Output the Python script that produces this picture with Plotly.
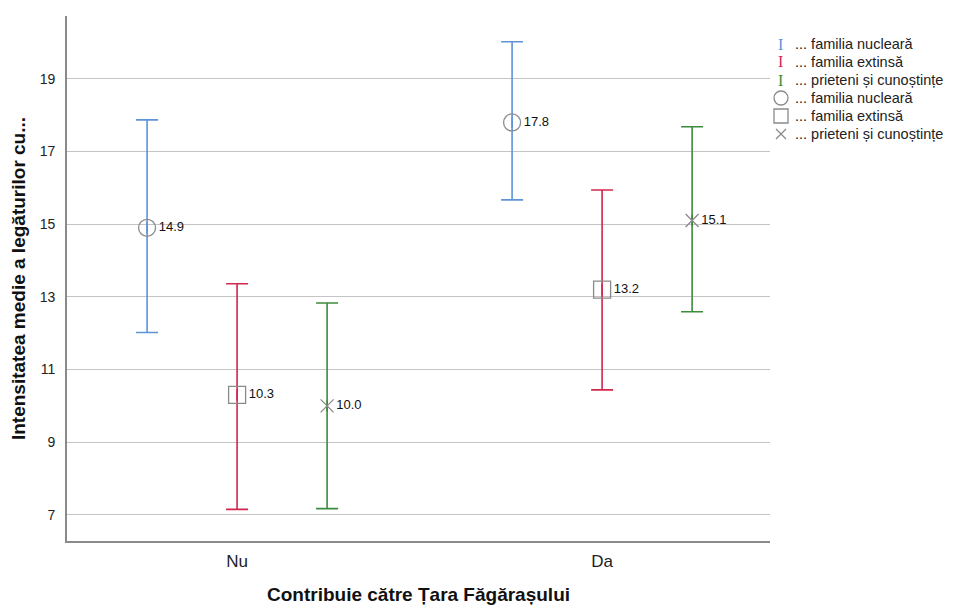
import plotly.graph_objects as go

categories = ["Nu", "Da"]
series_names = ["... familia nucleară", "... familia extinsă", "... prieteni și cunoștințe"]
means = [[14.9, 17.8], [10.3, 13.2], [10.0, 15.1]]
upper = [[17.87, 20.02], [13.36, 15.94], [12.83, 17.68]]
lower = [[12.02, 15.67], [7.15, 10.44], [7.17, 12.59]]
mean_labels = [["14.9", "17.8"], ["10.3", "13.2"], ["10.0", "15.1"]]

bar_colors = ["#5e93d9", "#d3264f", "#3d8b3d"]
marker_symbols = ["circle-open", "square-open", "x-thin-open"]
marker_sizes = [17, 17, 13]
offsets = [-0.2466, 0.0, 0.2466]
marker_color = "#8a8a8a"

font = "Liberation Sans, Arial, sans-serif"

# figure geometry (page has 8px body margin)
L, T, W, H = 59, 8, 703, 525
FW, FH = 960, 612

fig = go.Figure()

# error bar traces
for i, name in enumerate(series_names):
    xs = [j + offsets[i] for j in range(len(categories))]
    fig.add_trace(go.Scatter(
        x=xs, y=means[i], mode="markers", name=name, showlegend=False,
        marker=dict(symbol="line-ns-open", size=8, color=bar_colors[i],
                    line=dict(color=bar_colors[i], width=1.5)),
        error_y=dict(type="data", symmetric=False,
                     array=[u - m for u, m in zip(upper[i], means[i])],
                     arrayminus=[m - l for m, l in zip(means[i], lower[i])],
                     color=bar_colors[i], thickness=1.6, width=11),
        hoverinfo="skip",
    ))

# mean marker traces
for i, name in enumerate(series_names):
    xs = [j + offsets[i] for j in range(len(categories))]
    fig.add_trace(go.Scatter(
        x=xs, y=means[i], mode="markers+text", name=name, showlegend=False,
        marker=dict(symbol=marker_symbols[i], size=marker_sizes[i], color=marker_color,
                    line=dict(color=marker_color, width=1.3)),
        text=mean_labels[i], textposition="middle right",
        textfont=dict(family=font, size=13, color="#111"),
    ))

# custom legend (annotations + pixel-sized shapes)
def px_to_paper(fx, fy):
    return (fx - L) / W, (T + H - fy) / H

annotations, shapes = [], []
row_top, row_gap = 36, 18
icon_x, text_x = 773, 785
r = 7
line_style = dict(color=marker_color, width=1.3)
for k in range(6):
    fy = row_top + k * row_gap
    ix, iy = px_to_paper(icon_x, fy)
    tx, ty = px_to_paper(text_x, fy)
    if k < 3:
        annotations.append(dict(x=ix, y=iy, xref="paper", yref="paper", text="I",
                                showarrow=False, xanchor="center", yanchor="middle",
                                font=dict(family="Liberation Serif, serif", size=16,
                                          color=bar_colors[k])))
        label = series_names[k]
    else:
        base = dict(xref="paper", yref="paper", xsizemode="pixel", ysizemode="pixel",
                    xanchor=ix, yanchor=iy, line=line_style)
        if k == 3:
            shapes.append(dict(type="circle", x0=-r, x1=r, y0=-r, y1=r, **base))
        elif k == 4:
            shapes.append(dict(type="rect", x0=-r, x1=r, y0=-r, y1=r, **base))
        else:
            shapes.append(dict(type="line", x0=-5, x1=5, y0=-5, y1=5, **base))
            shapes.append(dict(type="line", x0=-5, x1=5, y0=5, y1=-5, **base))
        label = series_names[k - 3]
    annotations.append(dict(x=tx, y=ty, xref="paper", yref="paper", text=label,
                            showarrow=False, xanchor="left", yanchor="middle",
                            font=dict(family=font, size=14.5, color="#222")))

fig.update_layout(
    width=FW, height=FH,
    margin=dict(l=L, r=FW - L - W, t=T, b=FH - T - H),
    paper_bgcolor="white", plot_bgcolor="white",
    font=dict(family=font, color="#222"),
    showlegend=False,
    annotations=annotations,
    shapes=shapes,
    xaxis=dict(range=[-0.466, 1.46], tickvals=list(range(len(categories))),
               ticktext=categories, showgrid=False, zeroline=False,
               showline=True, linecolor="#8a8a8a", linewidth=1.6,
               ticks="", ticklabelstandoff=4, automargin=False,
               tickfont=dict(family=font, size=17, color="#222"),
               title=dict(text="<b>Contribuie către Țara Făgărașului</b>",
                          font=dict(family=font, size=19, color="#111"), standoff=17)),
    yaxis=dict(range=[6.28, 20.73], tickvals=[7, 9, 11, 13, 15, 17, 19],
               showgrid=True, gridcolor="#c4c4c4", gridwidth=1, zeroline=False,
               showline=True, linecolor="#8a8a8a", linewidth=1.6,
               ticks="", ticklabelstandoff=7, automargin=False,
               tickfont=dict(family=font, size=14, color="#222"),
               title=dict(text="<b>Intensitatea medie a legăturilor cu...</b>",
                          font=dict(family=font, size=19, color="#111"), standoff=10)),
)

fig.write_html("out.html")
